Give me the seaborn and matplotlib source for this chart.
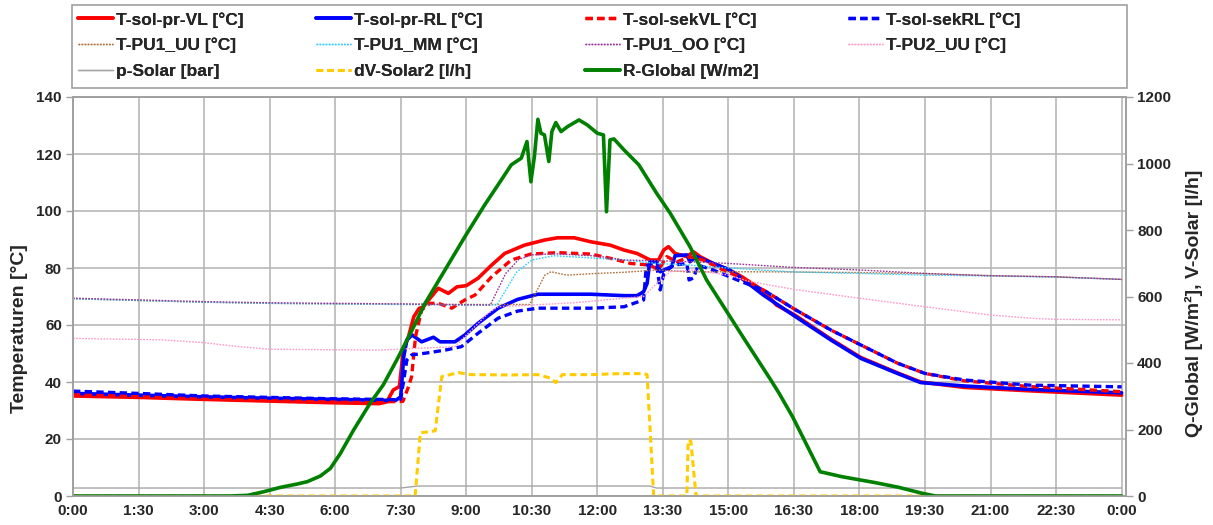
import numpy as np
import pandas as pd
import matplotlib
matplotlib.use("Agg")
import matplotlib.pyplot as plt
import seaborn as sns
from matplotlib.lines import Line2D
from matplotlib.patches import Rectangle

sns.set_theme(style="white")
plt.rcParams['font.family'] = ['Liberation Sans', 'DejaVu Sans']

# ---------------- data (hours of day, values) ----------------
tick_hours = [0, 1.5, 3, 4.5, 6, 7.5, 9, 10.5, 12, 13.5, 15, 16.5, 18, 19.5, 21, 22.5, 24]
tick_labels = ["0:00", "1:30", "3:00", "4:30", "6:00", "7:30", "9:00", "10:30", "12:00",
               "13:30", "15:00", "16:30", "18:00", "19:30", "21:00", "22:30", "0:00"]

vl_h = [0, 1.5, 3, 4.5, 6, 7.0, 7.18, 7.33, 7.47, 7.56, 7.68, 7.8, 7.92, 8.02, 8.14, 8.36, 8.59, 8.79,
        9.0, 9.27, 9.58, 9.88, 10.33, 10.79, 11.09, 11.47, 11.85, 12.3, 12.61, 12.91, 13.21, 13.4,
        13.52, 13.63, 13.78, 14.05, 14.2, 14.35, 14.65, 15.0, 15.3, 15.8, 16.1, 16.54, 17.35, 18.03,
        18.87, 19.4, 20.4, 21.9, 24]
vl_v = [35.1, 34.6, 33.9, 33.3, 32.7, 32.4, 33.0, 37.2, 38.4, 51.0, 56.0, 62.9, 65.8, 66.4, 68.8, 72.9,
        71.1, 73.4, 73.8, 76.4, 81.0, 85.1, 88.0, 89.8, 90.6, 90.6, 89.2, 88.0, 86.3, 85.1, 82.8, 82.8,
        86.3, 87.5, 85.1, 84.0, 85.7, 84.0, 81.6, 79.5, 77.0, 72.0, 67.0, 63.3, 55.0, 48.6, 43.2, 40.0,
        38.1, 36.9, 35.4]

rl_h = [0, 1.5, 3, 4.5, 6, 7.0, 7.38, 7.5, 7.57, 7.64, 7.76, 7.98, 8.25, 8.4, 8.74, 8.97, 9.27, 9.73,
        10.18, 10.64, 11.24, 11.85, 12.61, 12.91, 13.06, 13.14, 13.2, 13.36, 13.44, 13.7, 13.78, 14.05,
        14.12, 14.27, 14.65, 15.0, 15.3, 15.8, 16.54, 17.35, 18.03, 18.87, 19.4, 20.4, 21.9, 24]
rl_v = [36.0, 35.4, 34.8, 34.3, 33.9, 33.6, 33.5, 34.8, 48.9, 54.7, 56.5, 54.1, 55.7, 54.1, 54.1, 56.5,
        60.6, 65.9, 69.0, 70.8, 70.8, 70.8, 70.3, 70.3, 71.7, 74.6, 82.2, 82.2, 78.7, 80.5, 84.3, 84.6,
        82.2, 84.0, 81.6, 79.5, 76.4, 70.5, 62.9, 54.7, 48.3, 43.0, 39.8, 38.6, 37.4, 36.2]

sekvl_h = [0, 1.5, 3, 4.5, 6, 7.0, 7.55, 7.68, 7.75, 7.84, 7.98, 8.17, 8.36, 8.67, 8.97, 9.2, 9.58,
           10.03, 10.48, 11.09, 11.85, 12.3, 12.76, 13.21, 13.4, 13.59, 13.83, 14.12, 14.42, 14.88,
           15.3, 15.8, 16.54, 17.35, 18.03, 18.87, 19.5, 20.4, 21.9, 24]
sekvl_v = [35.5, 35.0, 34.3, 33.7, 33.2, 33.0, 33.2, 38.4, 41.9, 56.0, 65.3, 67.6, 67.6, 65.9, 68.8,
           70.5, 76.9, 82.8, 84.9, 85.4, 84.9, 83.4, 81.6, 81.0, 79.3, 84.0, 82.2, 84.0, 82.8, 79.3,
           76.5, 72.3, 65.3, 58.2, 53.0, 46.6, 43.0, 40.4, 38.4, 36.6]

sekrl_h = [0, 1.5, 3, 4.5, 6, 7.0, 7.38, 7.5, 7.57, 7.64, 7.75, 8.06, 8.52, 8.89, 9.27, 9.73, 10.18,
           10.64, 11.85, 12.61, 13.06, 13.12, 13.21, 13.36, 13.44, 13.52, 13.74, 14.05, 14.1, 14.2,
           14.31, 14.65, 15.3, 15.8, 16.54, 17.35, 18.03, 18.87, 19.5, 20.4, 21.9, 24]
sekrl_v = [36.8, 36.0, 35.1, 34.6, 34.1, 33.9, 33.8, 34.0, 40.7, 47.7, 49.5, 50.1, 51.2, 52.4, 57.1,
           62.4, 64.9, 65.9, 65.9, 66.4, 68.8, 80.5, 81.6, 81.0, 72.3, 78.1, 81.0, 81.6, 75.8, 76.5,
           81.0, 79.3, 75.2, 72.3, 65.3, 58.2, 53.0, 46.6, 43.0, 40.7, 38.9, 38.3]

pu1_uu_h = [0, 3, 4.5, 6, 7.5, 9.0, 10.45, 10.8, 10.94, 11.3, 12.0, 12.6, 13.4, 14.1, 15.0, 16.5,
            18.0, 19.5, 21.0, 22.5, 24]
pu1_uu_v = [69.2, 68.0, 67.6, 67.4, 67.3, 67.2, 67.2, 77.5, 78.7, 77.5, 78.1, 78.5, 79.3, 78.6, 78.7,
            78.6, 78.4, 78.0, 77.3, 76.9, 76.0]

pu1_mm_h = [0, 3, 4.5, 6, 7.5, 9.0, 9.7, 10.15, 10.5, 11.0, 12.0, 12.61, 13.36, 14.12, 15.0, 16.5,
            18.0, 19.5, 21.0, 22.5, 24]
pu1_mm_v = [69.2, 68.0, 67.6, 67.4, 67.2, 67.0, 67.0, 78.5, 82.8, 84.3, 83.4, 82.8, 81.6, 81.0, 80.0,
            78.6, 78.1, 77.5, 77.2, 76.8, 76.0]

pu1_oo_h = [0, 3, 4.5, 6, 7.5, 9.0, 9.55, 9.9, 10.2, 10.5, 11.0, 12.0, 12.61, 13.5, 14.12, 15.0,
            16.5, 18.0, 19.5, 21.0, 22.5, 24]
pu1_oo_v = [69.4, 68.2, 67.8, 67.6, 67.4, 67.1, 67.0, 78.0, 83.0, 84.6, 85.0, 84.2, 82.8, 82.5, 82.2,
            81.6, 80.2, 79.3, 78.1, 77.3, 76.9, 76.0]

pu2_uu_h = [0, 2.0, 3.0, 3.8, 4.5, 7.0, 8.74, 9.5, 9.73, 10.5, 11.55, 12.61, 13.06, 13.36, 13.67,
            14.2, 15.0, 15.5, 16.5, 18.0, 19.5, 21.0, 22.0, 22.5, 24]
pu2_uu_v = [55.3, 54.8, 53.8, 52.4, 51.5, 51.2, 52.4, 64.1, 66.4, 67.0, 67.9, 69.4, 70.0, 74.6, 78.7,
            79.3, 77.5, 75.2, 72.5, 69.4, 66.4, 63.5, 62.3, 62.0, 61.8]

psolar_h = [0, 7.5, 7.9, 13.2, 13.35, 24]
psolar_v = [2.8, 2.8, 3.5, 3.5, 2.8, 2.8]

dv_h = [0, 7.83, 7.95, 8.29, 8.44, 8.82, 9.1, 10.0, 10.64, 10.94, 11.05, 11.2, 11.85, 12.5, 13.06,
        13.14, 13.29, 14.05, 14.08, 14.14, 14.26, 24]
dv_v = [0, 0, 190, 196, 359, 371, 365, 364, 365, 354, 341, 365, 365, 368, 368, 365, 0, 0, 168, 165,
        0, 0]

rg_h = [0, 3.6, 4.0, 4.37, 4.75, 5.13, 5.36, 5.66, 5.89, 6.12, 6.42, 6.8, 7.1, 7.41, 7.76, 8.06,
        8.97, 9.42, 9.8, 10.03, 10.26, 10.39, 10.48, 10.56, 10.64, 10.71, 10.79, 10.89, 10.96, 11.05,
        11.17, 11.32, 11.58, 11.77, 12.0, 12.14, 12.21, 12.29, 12.38, 12.61, 12.95, 13.36, 13.67,
        14.12, 14.5, 15.33, 15.97, 16.16, 16.47, 16.7, 17.1, 17.6, 18.37, 18.9, 19.44, 19.74, 24]
rg_v = [0, 0, 2, 13, 26, 36, 43, 60, 83, 128, 198, 279, 334, 409, 499, 580, 780, 875, 950, 996,
        1016, 1066, 945, 1021, 1133, 1091, 1086, 1006, 1096, 1123, 1096, 1111, 1131, 1116, 1091,
        1086, 855, 1071, 1074, 1041, 996, 910, 850, 750, 650, 479, 349, 309, 238, 178, 73, 58, 40,
        26, 8, 0, 0]

# ---------------- styling ----------------
RED, BLUE = "#ff0000", "#0000ff"
BROWN, CYAN, PURPLE, PINK = "#b0703c", "#33ccff", "#993399", "#ff99cc"
GRAY, GOLD, GREEN = "#a6a6a6", "#ffcc00", "#008000"
DASH = (0, (2.2, 1.3))
DOT = (0, (1.2, 1.0))
FS = 10.5
W, H = 1213, 525

fig = plt.figure(figsize=(W / 100, H / 100), dpi=100)
ax = fig.add_axes([73 / W, 1 - 496 / H, (1126 - 73) / W, (496 - 97) / H])
ax2 = ax.twinx()

def draw(a, h, v, color, ls, lw, label):
    df = pd.DataFrame({"h": h, "v": v})
    sns.lineplot(data=df, x="h", y="v", ax=a, color=color, linestyle=ls, linewidth=lw,
                 estimator=None, sort=False, legend=False)
    return Line2D([], [], color=color, linestyle=ls, linewidth=lw, label=label)

handles = []
handles.append(draw(ax, vl_h, vl_v, RED, "-", 2.6, "T-sol-pr-VL [°C]"))
handles.append(draw(ax, rl_h, rl_v, BLUE, "-", 2.6, "T-sol-pr-RL [°C]"))
handles.append(draw(ax, sekvl_h, sekvl_v, RED, DASH, 2.4, "T-sol-sekVL [°C]"))
handles.append(draw(ax, sekrl_h, sekrl_v, BLUE, DASH, 2.4, "T-sol-sekRL [°C]"))
handles.append(draw(ax, pu1_uu_h, pu1_uu_v, BROWN, DOT, 1.0, "T-PU1_UU [°C]"))
handles.append(draw(ax, pu1_mm_h, pu1_mm_v, CYAN, DOT, 1.0, "T-PU1_MM [°C]"))
handles.append(draw(ax, pu1_oo_h, pu1_oo_v, PURPLE, DOT, 1.0, "T-PU1_OO [°C]"))
handles.append(draw(ax, pu2_uu_h, pu2_uu_v, PINK, DOT, 1.0, "T-PU2_UU [°C]"))
handles.append(draw(ax, psolar_h, psolar_v, GRAY, "-", 1.0, "p-Solar [bar]"))
handles.append(draw(ax2, dv_h, dv_v, GOLD, DASH, 2.2, "dV-Solar2 [l/h]"))
handles.append(draw(ax2, rg_h, rg_v, GREEN, "-", 2.6, "R-Global [W/m2]"))

# ---------------- axes ----------------
ax.set_xlim(0, 24.1)
ax.set_ylim(0, 140)
ax2.set_ylim(0, 1200)
ax.set_xticks(tick_hours)
ax.set_xticklabels(tick_labels)
ax.set_yticks(np.arange(0, 141, 20))
ax2.set_yticks(np.arange(0, 1201, 200))
ax.grid(True, color="#b8b8b8", linewidth=1.2)
ax.set_axisbelow(True)
for a in (ax, ax2):
    for s in a.spines.values():
        s.set_color("#a0a0a0")
        s.set_linewidth(1.2)
    a.tick_params(axis="both", direction="out", length=5, color="#a0a0a0", width=1.0,
                  labelsize=FS + 0.5, pad=3)
    for lab in a.get_xticklabels() + a.get_yticklabels():
        lab.set_fontweight("bold")
ax.tick_params(axis="x", length=0, pad=6)
ax.set_xlabel("")
ax.set_ylabel("Temperaturen [°C]", fontsize=14, fontweight="bold")
ax.yaxis.set_label_coords(-0.043, 0.42)
ax2.set_xlabel("")
ax2.set_ylabel("Q-Global [W/m²], V-Solar [l/h]", fontsize=14, fontweight="bold")
ax2.yaxis.set_label_coords(1.056, 0.484)

# ---------------- legend: 4 columns, row-wise order, framed box ----------------
fig.add_artist(Rectangle((72 / W, 1 - 88 / H), (1127 - 72) / W, 83 / H, transform=fig.transFigure,
                         facecolor="white", edgecolor="#a0a0a0", linewidth=1.2))
col_x = [78, 316, 585, 848]
for c in range(4):
    hs = handles[c::4]
    lg = fig.legend(handles=hs, loc="upper left", bbox_to_anchor=(col_x[c] / W, 1 - 12 / H),
                    ncol=1, frameon=False, prop={"weight": "bold", "size": 12.5},
                    handlelength=2.0, handletextpad=0.2, labelspacing=0.59,
                    borderpad=0.0, borderaxespad=0.0)
    fig.add_artist(lg)

fig.savefig("out.png", dpi=100)
